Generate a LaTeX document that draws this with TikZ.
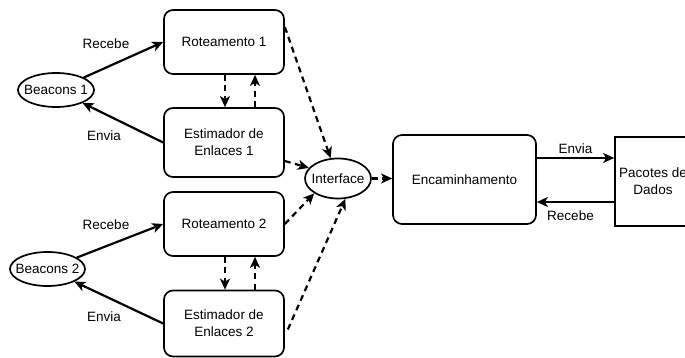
\documentclass[tikz,border=0pt]{standalone}
\usepackage{fontspec}
\setmainfont{Liberation Sans}
\usetikzlibrary{shapes.geometric,arrows.meta}

\begin{document}
\begin{tikzpicture}[x=1pt, y=-1pt, font=\fontsize{13.5}{17}\selectfont,
		b/.style={draw, rounded corners=9pt, line width=1.7pt, minimum width=120pt, minimum height=64pt, align=center, inner sep=0pt},
		o/.style={ellipse, draw, line width=1.7pt, inner sep=0pt, minimum height=34pt},
		a/.style={-{Stealth[length=11pt, width=10pt, inset=3pt]}, line width=2.2pt},
		d/.style={a, dash pattern=on 6pt off 4.5pt}]
		\useasboundingbox (0,0) rectangle (685,358);
		\node[b] (R1) at (224,42) {Roteamento 1};
		\node[b, minimum height=69pt] (E1) at (224,142.5) {Estimador de\\Enlaces 1};
		\node[b] (R2) at (224,224) {Roteamento 2};
		\node[b, minimum height=66pt] (E2) at (224,323.5) {Estimador de\\Enlaces 2};
		\node[o, minimum width=76pt] (B1) at (56,90) {\makebox[0pt]{Beacons 1}};
		\node[o, minimum width=75pt] (B2) at (47.5,269) {\makebox[0pt]{Beacons 2}};
		\node[o, minimum width=66pt, minimum height=40pt] (I) at (338,178.5) {\makebox[0pt]{Interface}};
		\node[b, minimum width=143pt, minimum height=89pt] (N) at (464.5,179.5) {Encaminhamento};
		\node[draw, line width=1.7pt, minimum width=76pt, minimum height=89pt, align=center, inner sep=0pt] (P) at (653,181.5) {Pacotes de\\Dados};

		\node (R1_label) at (106,44) {Recebe};
		\node (E1_label) at (104,136) {Envia};
		\node (R2_label) at (106,225) {Recebe};
		\node (E2_label) at (104,317) {Envia};

		\draw[a] (B1) -- (R1.west);
		\draw[a] (E1.west) -- (B1);
		\draw[a] (B2) -- (R2.west);
		\draw[a] (E2.west) -- (B2);

		\draw[d] ([xshift=1pt]R1.south) -- ([xshift=1pt]E1.north);
		\draw[d] ([xshift=31pt]E1.north) -- ([xshift=31pt]R1.south);
		\draw[d] ([xshift=1pt]R2.south) -- ([xshift=1pt]E2.north);
		\draw[d] ([xshift=31pt]E2.north) -- ([xshift=31pt]R2.south);

		\draw[d] ([yshift=15pt]R1.east) -- (I.110);
		\draw[d] ([yshift=-18.5pt]E1.east) -- (I.160);
		\draw[d] (R2.east) -- (I.212);
		\draw[d] ([xshift=3pt, yshift=-6pt]E2.east) -- (I.290);
		\draw[d] (I.east) -- (I.east -| N.west);

		\draw[a] ([yshift=21.5pt]N.east) coordinate (n1) -- (n1 -| P.west) node[midway, above] {Envia};
		\draw[a] ([yshift=-20.5pt]P.west) coordinate (p1) -- (p1 -| N.east) node[midway, below=4pt, xshift=-5pt] {Recebe};
\end{tikzpicture}
\end{document}
